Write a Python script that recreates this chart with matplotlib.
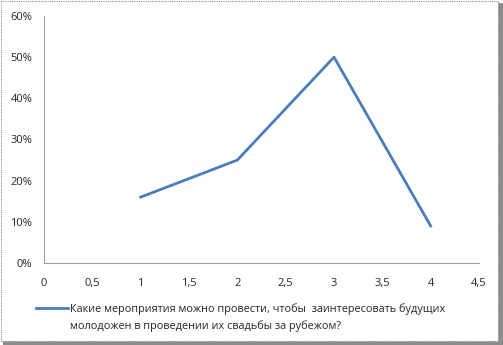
import matplotlib.pyplot as plt
from matplotlib.patches import Rectangle
from matplotlib.lines import Line2D
from matplotlib.ticker import FuncFormatter

# данные
x_vals = [1, 2, 3, 4]
y_vals = [0.16, 0.25, 0.50, 0.09]
legend_lines = ['Какие мероприятия можно провести, чтобы  заинтересовать будущих',
                'молодожен в проведении их свадьбы за рубежом?']
x_ticks = [0, 0.5, 1, 1.5, 2, 2.5, 3, 3.5, 4, 4.5]
y_ticks = [0, 0.1, 0.2, 0.3, 0.4, 0.5, 0.6]

plt.rcParams['font.family'] = ['Open Sans', 'DejaVu Sans']

W, H = 503, 345
fig = plt.figure(figsize=(W / 100, H / 100), dpi=100)
fig.patch.set_facecolor('white')

# рамка с тенью
fig.patches.append(Rectangle((3 / W, 0), 500 / W, 1 - 3 / H, transform=fig.transFigure,
                             facecolor='#8c8c8c', edgecolor='none', zorder=-3))
fig.patches.append(Rectangle((0.5 / W, 4 / H), 497 / W, 1 - 4.5 / H, transform=fig.transFigure,
                             facecolor='white', edgecolor='#8c8c8c', lw=0.8,
                             linestyle=(0, (1, 1)), zorder=-2))

ax = fig.add_axes([44 / W, 1 - 263 / H, (479 - 44) / W, (263 - 16) / H])
ax.set_facecolor('none')
line, = ax.plot(x_vals, y_vals, color='#4A7EBB', lw=2)

ax.set_xlim(0, 4.5)
ax.set_ylim(0, 0.6)
ax.set_xticks(x_ticks)
ax.set_yticks(y_ticks)
ax.xaxis.set_major_formatter(FuncFormatter(lambda v, p: ('%g' % v).replace('.', ',')))
ax.yaxis.set_major_formatter(FuncFormatter(lambda v, p: '%d%%' % round(v * 100)))
ax.tick_params(length=0, labelsize=8, colors='#262626')
ax.tick_params(axis='x', pad=11)
ax.tick_params(axis='y', pad=8.5)
for s in ['top', 'right']:
    ax.spines[s].set_visible(False)
for s in ['left', 'bottom']:
    ax.spines[s].set_color('#a0a0a0')
    ax.spines[s].set_linewidth(0.8)

blank = Line2D([], [], color='none')
leg = fig.legend([line, blank], legend_lines, loc='upper left',
                 bbox_to_anchor=(32 / W, 1 - 299 / H), frameon=False,
                 fontsize=7.8, handlelength=2.9, handletextpad=0.2, labelspacing=0.45,
                 borderaxespad=0, labelcolor='#262626')

fig.savefig('out.png', dpi=100)
